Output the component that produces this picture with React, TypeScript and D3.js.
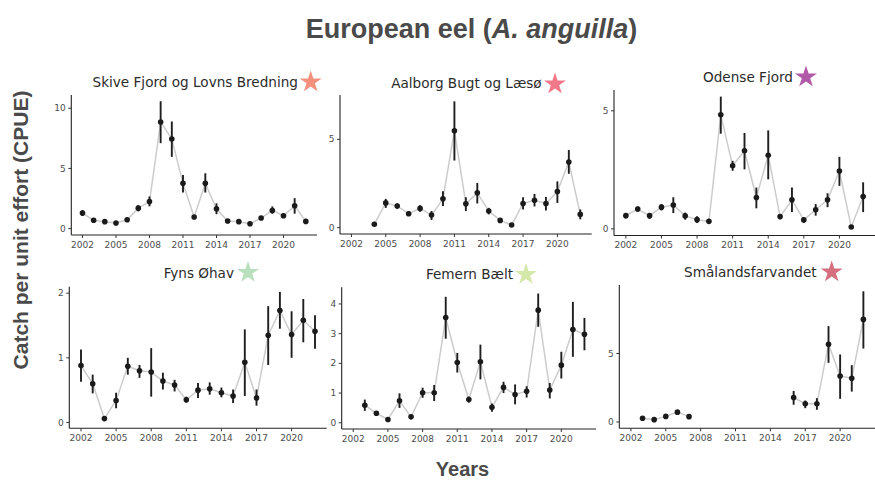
import React from 'react';
import * as d3 from 'd3';

// ---------- DATA ----------
const years = [2002, 2003, 2004, 2005, 2006, 2007, 2008, 2009, 2010, 2011, 2012, 2013, 2014, 2015, 2016, 2017, 2018, 2019, 2020, 2021, 2022];
const xTicks = [2002, 2005, 2008, 2011, 2014, 2017, 2020];

const siteNames = ['Skive Fjord og Lovns Bredning', 'Aalborg Bugt og Læsø', 'Odense Fjord', 'Fyns Øhav', 'Femern Bælt', 'Smålandsfarvandet'];

const skiveMean = [1.29, 0.69, 0.58, 0.47, 0.74, 1.70, 2.25, 8.85, 7.45, 3.76, 0.96, 3.76, 1.65, 0.63, 0.58, 0.41, 0.88, 1.51, 1.07, 1.90, 0.60];
const skiveLo = [1.05, 0.60, 0.50, 0.40, 0.64, 1.43, 1.85, 7.10, 5.96, 3.00, 0.85, 3.00, 1.20, 0.56, 0.50, 0.34, 0.76, 1.24, 0.97, 1.24, 0.48];
const skiveHi = [1.55, 0.78, 0.68, 0.55, 0.84, 1.95, 2.67, 10.58, 8.90, 4.45, 1.07, 4.60, 2.10, 0.70, 0.66, 0.48, 1.00, 1.84, 1.17, 2.53, 0.72];

const aalborgMean = [null, null, 0.19, 1.40, 1.22, 0.79, 1.09, 0.71, 1.63, 5.49, 1.35, 1.97, 0.94, 0.41, 0.15, 1.37, 1.55, 1.37, 2.04, 3.71, 0.75];
const aalborgLo = [null, null, 0.14, 1.12, 1.07, 0.66, 0.90, 0.43, 1.22, 3.80, 0.94, 1.37, 0.75, 0.33, 0.10, 1.03, 1.20, 0.97, 1.40, 3.05, 0.47];
const aalborgHi = [null, null, 0.24, 1.63, 1.37, 0.94, 1.27, 0.94, 2.06, 7.15, 1.72, 2.53, 1.12, 0.49, 0.20, 1.72, 1.91, 1.74, 2.62, 4.40, 1.03];

const odenseMean = [0.56, 0.84, 0.56, 0.92, 1.01, 0.55, 0.39, 0.32, 4.83, 2.67, 3.31, 1.33, 3.12, 0.52, 1.23, 0.38, 0.81, 1.23, 2.45, 0.08, 1.37];
const odenseLo = [0.45, 0.73, 0.43, 0.78, 0.67, 0.39, 0.25, 0.21, 4.03, 2.46, 2.52, 0.87, 2.10, 0.41, 0.71, 0.25, 0.56, 0.92, 1.82, 0.01, 0.71];
const odenseHi = [0.67, 0.95, 0.67, 1.05, 1.34, 0.69, 0.53, 0.42, 5.60, 2.88, 4.06, 1.75, 4.17, 0.63, 1.75, 0.50, 1.05, 1.51, 3.05, 0.15, 1.97];

const fynsMean = [0.88, 0.60, 0.06, 0.34, 0.87, 0.80, 0.78, 0.64, 0.58, 0.35, 0.50, 0.52, 0.46, 0.41, 0.93, 0.38, 1.35, 1.73, 1.36, 1.58, 1.41];
const fynsLo = [0.63, 0.45, 0.04, 0.22, 0.74, 0.69, 0.40, 0.51, 0.48, 0.31, 0.38, 0.43, 0.39, 0.30, 0.41, 0.26, 0.89, 1.45, 1.00, 1.24, 1.14];
const fynsHi = [1.13, 0.74, 0.09, 0.46, 1.00, 0.89, 1.15, 0.77, 0.66, 0.40, 0.61, 0.62, 0.54, 0.51, 1.44, 0.51, 1.80, 2.02, 1.72, 1.91, 1.66];

const femernMean = [null, 0.59, 0.32, 0.11, 0.74, 0.20, 1.01, 1.01, 3.54, 2.03, 0.78, 2.05, 0.52, 1.19, 0.95, 1.06, 3.79, 1.10, 1.94, 3.14, 2.98];
const femernLo = [null, 0.40, 0.28, 0.07, 0.50, 0.11, 0.84, 0.73, 2.83, 1.69, 0.68, 1.46, 0.37, 1.00, 0.62, 0.85, 3.23, 0.82, 1.49, 2.22, 2.44];
const femernHi = [null, 0.78, 0.37, 0.15, 0.99, 0.28, 1.18, 1.27, 4.24, 2.35, 0.88, 2.63, 0.65, 1.38, 1.29, 1.23, 4.35, 1.34, 2.39, 4.07, 3.53];

const smaalandMean = [null, 0.27, 0.17, 0.41, 0.72, 0.39, null, null, null, null, null, null, null, null, 1.79, 1.33, 1.33, 5.68, 3.36, 3.19, 7.49];
const smaalandLo = [null, 0.20, 0.10, 0.33, 0.62, 0.31, null, null, null, null, null, null, null, null, 1.26, 1.01, 0.89, 4.32, 1.69, 2.22, 5.36];
const smaalandHi = [null, 0.34, 0.24, 0.49, 0.82, 0.47, null, null, null, null, null, null, null, null, 2.27, 1.57, 1.74, 7.00, 4.93, 4.15, 9.54];

const yTicksSkive = [0, 5, 10];
const yTicksAalborg = [0, 5];
const yTicksOdense = [0, 5];
const yTicksFyns = [0, 1, 2];
const yTicksFemern = [0, 1, 2, 3, 4];
const yTicksSmaaland = [0, 5];

// ---------- LAYOUT / STYLE ----------
const W = 875;
const H = 480;

const starColors = ['#f4907b', '#f07889', '#b15aa8', '#b8e0bd', '#d4e8a9', '#d6707f'];

type Panel = {
  name: string; mean: (number | null)[]; lo: (number | null)[]; hi: (number | null)[];
  ticks: number[]; yDom: [number, number];
  left: number; right: number; top: number; bottom: number;
  titleEnd: number; titleY: number; starX: number; starY: number; star: string;
};

const panels: Panel[] = [
  { name: siteNames[0], mean: skiveMean, lo: skiveLo, hi: skiveHi, ticks: yTicksSkive, yDom: [-0.53, 11.1],
    left: 71.3, right: 317, top: 95, bottom: 235, titleEnd: 298, titleY: 86.7, starX: 310.7, starY: 82, star: starColors[0] },
  { name: siteNames[1], mean: aalborgMean, lo: aalborgLo, hi: aalborgHi, ticks: yTicksAalborg, yDom: [-0.36, 7.51],
    left: 340, right: 591.7, top: 95, bottom: 234, titleEnd: 541.7, titleY: 88.3, starX: 555, starY: 84, star: starColors[1] },
  { name: siteNames[2], mean: odenseMean, lo: odenseLo, hi: odenseHi, ticks: yTicksOdense, yDom: [-0.28, 5.88],
    left: 614, right: 875, top: 90, bottom: 235.5, titleEnd: 793, titleY: 81.7, starX: 806, starY: 77, star: starColors[2] },
  { name: siteNames[3], mean: fynsMean, lo: fynsLo, hi: fynsHi, ticks: yTicksFyns, yDom: [-0.09, 2.1],
    left: 69.3, right: 326.7, top: 286.7, bottom: 428.3, titleEnd: 234, titleY: 277.7, starX: 248, starY: 272.5, star: starColors[3] },
  { name: siteNames[4], mean: femernMean, lo: femernLo, hi: femernHi, ticks: yTicksFemern, yDom: [-0.21, 4.56],
    left: 341.7, right: 596, top: 287.3, bottom: 429, titleEnd: 513, titleY: 279, starX: 526, starY: 274.5, star: starColors[4] },
  { name: siteNames[5], mean: smaalandMean, lo: smaalandLo, hi: smaalandHi, ticks: yTicksSmaaland, yDom: [-0.46, 10.0],
    left: 619.3, right: 875, top: 285, bottom: 428.3, titleEnd: 816.7, titleY: 276.7, starX: 831.7, starY: 272, star: starColors[5] },
];

const tickFont = 'DejaVu Sans, sans-serif';
const tickColor = '#4d4d4d';

function PanelPlot({ p }: { p: Panel }) {
  const x = d3.scaleLinear().domain([2001, 2023]).range([p.left, p.right]);
  const y = d3.scaleLinear().domain(p.yDom).range([p.bottom, p.top]);
  const rows = years.map((yr, i) => ({ yr, m: p.mean[i], lo: p.lo[i], hi: p.hi[i] }));
  const line = d3.line<{ yr: number; m: number | null }>()
    .defined(d => d.m !== null)
    .x(d => x(d.yr))
    .y(d => y(d.m as number));
  const star = d3.symbol().type(d3.symbolStar).size(150)();
  return (
    <g>
      <text x={p.titleEnd} y={p.titleY} textAnchor="end" fontFamily={tickFont} fontSize={13.6} fill="#2b2b2b">{p.name}</text>
      <path d={star || ''} transform={`translate(${p.starX},${p.starY})`} fill={p.star} />
      <path d={line(rows) || ''} fill="none" stroke="#cccccc" strokeWidth={1.5} />
      {rows.filter(r => r.m !== null && r.lo !== null).map(r => (
        <line key={'e' + r.yr} x1={x(r.yr)} x2={x(r.yr)} y1={y(r.lo as number)} y2={y(r.hi as number)} stroke="#1f1f1f" strokeWidth={1.9} />
      ))}
      {rows.filter(r => r.m !== null).map(r => (
        <circle key={'p' + r.yr} cx={x(r.yr)} cy={y(r.m as number)} r={2.8} fill="#1a1a1a" />
      ))}
      {/* axes */}
      <line x1={p.left} x2={p.left} y1={p.top} y2={p.bottom} stroke="#222" strokeWidth={1.1} />
      <line x1={p.left} x2={p.right} y1={p.bottom} y2={p.bottom} stroke="#222" strokeWidth={1.1} />
      {p.ticks.map(t => (
        <g key={'yt' + t}>
          <line x1={p.left - 3} x2={p.left} y1={y(t)} y2={y(t)} stroke="#333" strokeWidth={1} />
          <text x={p.left - 5.5} y={y(t)} dy="0.35em" textAnchor="end" fontFamily={tickFont} fontSize={9} fill={tickColor}>{t}</text>
        </g>
      ))}
      {xTicks.map(t => (
        <g key={'xt' + t}>
          <line x1={x(t)} x2={x(t)} y1={p.bottom} y2={p.bottom + 3} stroke="#333" strokeWidth={1} />
          <text x={x(t)} y={p.bottom + 12.5} textAnchor="middle" fontFamily={tickFont} fontSize={9} fill={tickColor}>{t}</text>
        </g>
      ))}
    </g>
  );
}

export default function App() {
  return (
    <svg width={W} height={H} style={{ position: 'absolute', left: 0, top: 0, background: '#fff' }}>
      <rect x={0} y={0} width={W} height={H} fill="#fff" />
      <text x={471.5} y={38} textAnchor="middle" fontFamily="Liberation Sans, Arial, sans-serif" fontWeight="bold" fontSize={27} fill="#4a4a4a">
        European eel (<tspan fontStyle="italic">A. anguilla</tspan>)
      </text>
      <text transform="translate(28,230) rotate(-90)" textAnchor="middle" fontFamily="Liberation Sans, Arial, sans-serif" fontWeight="bold" fontSize={21} fill="#4a4a4a">
        Catch per unit effort (CPUE)
      </text>
      <text x={462.5} y={476} textAnchor="middle" fontFamily="Liberation Sans, Arial, sans-serif" fontWeight="bold" fontSize={20} fill="#4a4a4a">Years</text>
      {panels.map(p => <PanelPlot key={p.name} p={p} />)}
    </svg>
  );
}
